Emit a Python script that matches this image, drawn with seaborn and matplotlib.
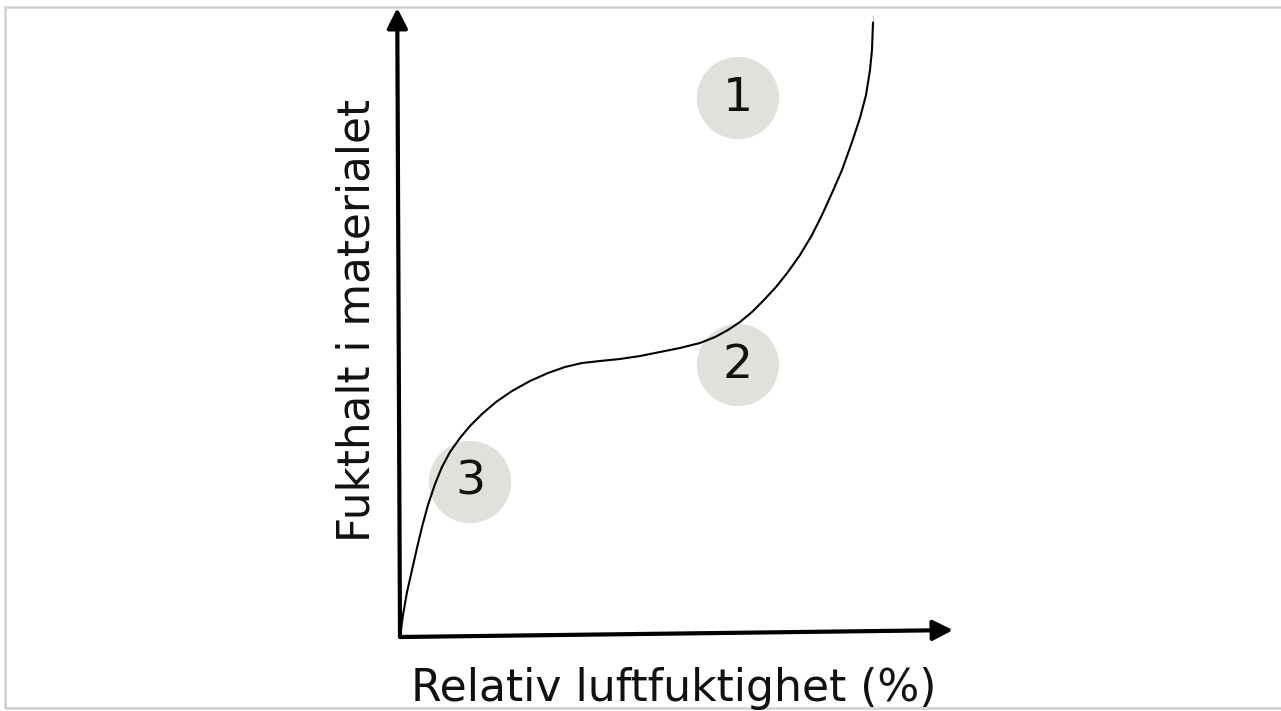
import matplotlib
matplotlib.use("Agg")
import matplotlib.pyplot as plt
import seaborn as sns
import pandas as pd
from matplotlib.patches import Rectangle

# Sorption curve (relative humidity % vs moisture content, arbitrary units)
rh = [0.0, 0.54, 1.27, 2.17, 3.07, 3.98, 5.06, 6.33, 7.59, 9.04, 10.85, 12.66, 14.83,
      17.36, 20.25, 23.51, 26.76, 29.84, 32.91, 36.17, 39.78, 43.40, 47.02, 50.63,
      54.25, 56.96, 59.31, 61.48, 63.65, 65.82, 67.99, 70.16, 72.33, 74.50, 76.31,
      78.12, 79.93, 81.74, 83.18, 84.27, 84.99, 85.35, 85.53, 85.53]
moisture = [0.0, 3.50, 7.15, 10.65, 14.15, 17.49, 20.99, 24.32, 27.03, 29.41, 31.64,
            33.55, 35.45, 37.36, 39.11, 40.70, 41.97, 42.93, 43.56, 43.88, 44.20, 44.67,
            45.31, 45.95, 46.74, 47.69, 48.81, 50.08, 51.67, 53.58, 55.64, 58.03, 60.73,
            63.91, 67.09, 70.59, 74.24, 78.70, 82.51, 86.17, 90.14, 93.32, 96.50, 98.89]

# Region markers
region_labels = ["1", "2", "3"]
region_x = [61.12, 61.12, 12.66]
region_y = [85.69, 43.24, 24.64]

x_label = "Relativ luftfuktighet (%)"
y_label = "Fukthalt i materialet"

sns.set_theme(style="white")
plt.rcParams["font.family"] = ["DejaVu Sans"]

W, H = 1281, 711
fig = plt.figure(figsize=(W / 100, H / 100), dpi=100)
fig.patch.set_facecolor("white")

# light grey frame
fig.add_artist(Rectangle((5 / W, 3 / H), 1.2, (708 - 7) / H, transform=fig.transFigure,
                         fill=False, edgecolor="#d0d0d0", lw=1.8))

ox, oy = 400, 637
ax = fig.add_axes([ox / W, (H - oy) / H, (953 - ox) / W, (oy - 8) / H])

df_reg = pd.DataFrame({"x": region_x, "y": region_y, "label": region_labels})
sns.scatterplot(data=df_reg, x="x", y="y", s=3500, color="#e1e1dc", edgecolor="none",
                ax=ax, legend=False, zorder=1, clip_on=False)
for _, r in df_reg.iterrows():
    ax.text(r["x"], r["y"], r["label"], ha="center", va="center", fontsize=34,
            color="#111111", zorder=2)

df_curve = pd.DataFrame({"rh": rh, "m": moisture})
sns.lineplot(data=df_curve, x="rh", y="m", sort=False, color="black", lw=1.5, ax=ax,
             zorder=3, clip_on=False, solid_joinstyle="round", solid_capstyle="round")
ax.set_xlim(0, 100)
ax.set_ylim(0, 100)
ax.axis("off")

# axes arrows
arrow = dict(arrowstyle="-|>,head_length=0.55,head_width=0.28", color="black", lw=3,
             mutation_scale=22, shrinkA=0, shrinkB=0)
ax.annotate("", xy=(1.0, 0.011), xytext=(0, 0), xycoords="axes fraction",
            textcoords="axes fraction", arrowprops=arrow, zorder=4)
ax.annotate("", xy=(-0.005, 1.0), xytext=(0, 0), xycoords="axes fraction",
            textcoords="axes fraction", arrowprops=arrow, zorder=4)

fig.text(674 / W, 1 - 688 / H, x_label, ha="center", va="center", fontsize=31.8,
         color="#111111")
fig.text(357 / W, 1 - 320 / H, y_label, ha="center", va="center", fontsize=31.5,
         rotation=90, color="#111111")

fig.savefig("out.png", dpi=100, facecolor="white")
